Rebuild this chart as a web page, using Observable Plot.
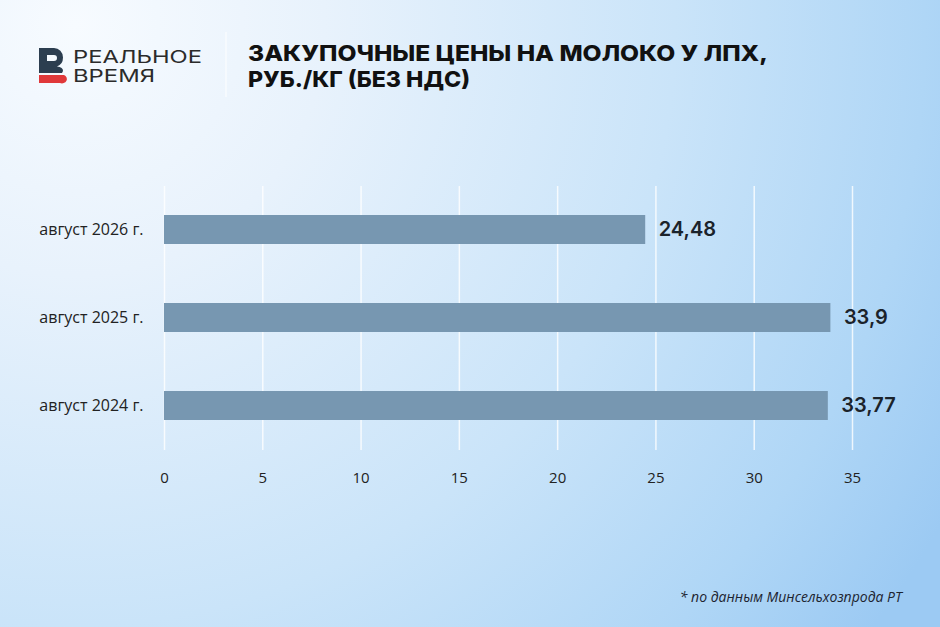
<!DOCTYPE html>
<html>
<head>
<meta charset="utf-8">
<script src="https://cdn.jsdelivr.net/npm/d3@7"></script>
<script src="https://cdn.jsdelivr.net/npm/@observablehq/plot@0.6"></script>
<style>
  html, body { margin: 0; padding: 0; }
  #page {
    position: relative; width: 940px; height: 627px; overflow: hidden;
    background: radial-gradient(circle 1000px at 8% 4%, #f7fbff 0%, #e8f2fc 25%, #cae4f9 60%, #afd6f6 85%, #9ccaf3 100%);
  }
  #header { position: absolute; left: 0; top: 0; }
  #chart { position: absolute; left: 0; top: 150px; }
  #note {
    position: absolute; right: 38px; top: 587px;
    font-family: "Open Sans", sans-serif; font-style: italic; font-size: 14px; color: #1d2430;
  }
</style>
</head>
<body>
<div id="page">
  <svg id="header" width="940" height="130">
    <line x1="226" y1="32" x2="226" y2="97" stroke="#ffffff" stroke-opacity="0.8" stroke-width="1.2"/>
    <path d="M39,48 H54 A9,9.5 0 0 1 63,57.5 A9,9.5 0 0 1 57,66.5 A8,4.5 0 0 1 63,71 L62,73 H39 Z M47,55 V61 H54 A3,3 0 0 0 54,55 Z" fill="#2c3e50" fill-rule="evenodd"/>
    <path d="M39,75 H64 A4.5,4 0 0 1 60,83 H39 Z" fill="#e0383a"/>
    <text x="73" y="63" font-family="Inter, sans-serif" font-size="17" font-weight="400" fill="#2b2b2b" textLength="129" lengthAdjust="spacingAndGlyphs">РЕАЛЬНОЕ</text>
    <text x="73" y="82" font-family="Inter, sans-serif" font-size="17" font-weight="400" fill="#2b2b2b" textLength="82" lengthAdjust="spacingAndGlyphs">ВРЕМЯ</text>
    <text x="248" y="61" font-family="Inter, sans-serif" font-size="22" font-weight="800" fill="#111111" textLength="520" lengthAdjust="spacingAndGlyphs">ЗАКУПОЧНЫЕ ЦЕНЫ НА МОЛОКО У ЛПХ,</text>
    <text x="248" y="87" font-family="Inter, sans-serif" font-size="22" font-weight="800" fill="#111111" textLength="222" lengthAdjust="spacingAndGlyphs">РУБ./КГ (БЕЗ НДС)</text>
  </svg>
  <div id="chart"></div>
  <div id="note">* по данным Минсельхозпрода РТ</div>
</div>
<script>
const categories = ["август 2026 г.", "август 2025 г.", "август 2024 г."];
const values = [24.48, 33.9, 33.77];
const valueLabels = ["24,48", "33,9", "33,77"];
const xTicks = [0, 5, 10, 15, 20, 25, 30, 35];

const data = categories.map((c, i) => ({category: c, value: values[i], label: valueLabels[i]}));

const chart = Plot.plot({
  width: 940,
  height: 350,
  marginTop: 36,
  marginBottom: 50,
  marginLeft: 164,
  marginRight: 88,
  style: {background: "transparent", overflow: "visible", fontFamily: "'Open Sans', sans-serif"},
  x: {domain: [0, 35], label: null},
  y: {domain: categories, paddingInner: 0.67, paddingOuter: 0.335, label: null},
  marks: [
    Plot.gridX(xTicks, {stroke: "#ffffff", strokeOpacity: 0.8, strokeWidth: 1.5}),
    Plot.barX(data, {y: "category", x: "value", fill: "#7797b1"}),
    Plot.text(data, {y: "category", x: "value", text: "label", dx: 13, textAnchor: "start",
      fontSize: 20, fontWeight: 600, fill: "#1b232b", fontFamily: "Inter, sans-serif"}),
    Plot.axisX(xTicks, {tickSize: 0, tickPadding: 22, fontSize: 15, fill: "#222", label: null}),
    Plot.axisY(categories, {tickSize: 0, tickPadding: 21, fontSize: 16, fill: "#222", label: null})
  ]
});
document.getElementById("chart").appendChild(chart);
</script>
</body>
</html>
